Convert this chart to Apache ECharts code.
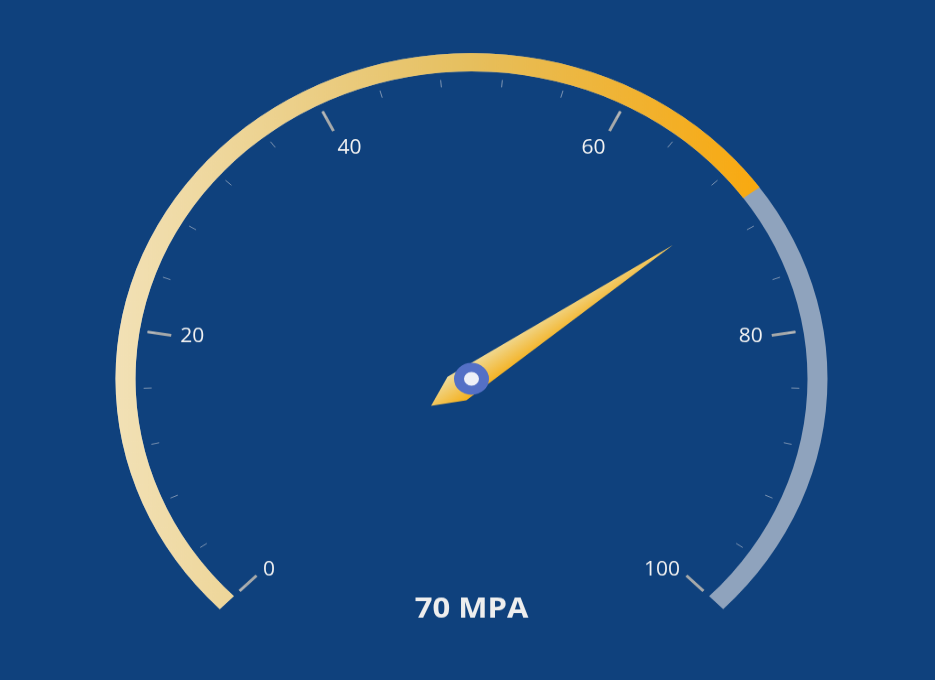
<!DOCTYPE html>
<html>
<head>
<meta charset="utf-8">
<script src="https://cdn.jsdelivr.net/npm/echarts@6/dist/echarts.min.js"></script>
<style>
html,body{margin:0;padding:0;background:#0f417d;overflow:hidden;}
#wrap{width:935px;height:680px;overflow:hidden;background:#0f417d;}
#chart{width:935px;height:743px;transform:scale(1,0.915);transform-origin:0 0;}
</style>
</head>
<body>
<div id="wrap"><div id="chart"></div></div>
<script>
const gaugeMin = 0;
const gaugeMax = 100;
const gaugeValue = [70];
const unitLabel = 'MPA';

const chart = echarts.init(document.getElementById('chart'), null, {renderer: 'canvas'});
const option = {
  backgroundColor: '#0f417d',
  series: [{
    type: 'gauge',
    center: [471.5, 414],
    radius: 356,
    startAngle: 225,
    endAngle: -45,
    min: gaugeMin,
    max: gaugeMax,
    splitNumber: 5,
    axisLine: {
      lineStyle: { width: 20, color: [[1, '#8fa3bd']] }
    },
    progress: {
      show: true,
      width: 20,
      itemStyle: {
        color: new echarts.graphic.LinearGradient(0, 0, 1, 0, [
          { offset: 0, color: '#f2e1b6' },
          { offset: 0.55, color: '#e6bf5e' },
          { offset: 1, color: '#f9a90f' }
        ])
      }
    },
    splitLine: {
      distance: 8,
      length: 24,
      lineStyle: { color: '#a6a9aa', width: 3 }
    },
    axisTick: {
      splitNumber: 5,
      distance: 8,
      length: 8,
      lineStyle: { color: 'rgba(200,205,215,0.6)', width: 1 }
    },
    axisLabel: {
      distance: 29,
      color: '#f2f2f2',
      fontSize: 21,
      fontFamily: 'Open Sans'
    },
    pointer: {
      show: true,
      length: 267,
      width: 16,
      offsetCenter: [0, 18],
      itemStyle: {
        color: new echarts.graphic.LinearGradient(0, 0, 1, 0, [
          { offset: 0, color: '#efdc9c' },
          { offset: 1, color: '#f5b01c' }
        ])
      }
    },
    anchor: {
      show: true,
      showAbove: true,
      size: 25,
      itemStyle: { color: '#eef0f8', borderColor: '#5470c6', borderWidth: 10 }
    },
    title: { show: false },
    detail: {
      valueAnimation: false,
      offsetCenter: [0, 252],
      formatter: '{value} ' + unitLabel,
      color: '#eeeeee',
      fontSize: 31,
      fontWeight: 'bold',
      fontFamily: 'Open Sans'
    },
    animation: false,
    data: [{ value: gaugeValue[0] }]
  }]
};
chart.setOption(option);
</script>
</body>
</html>
